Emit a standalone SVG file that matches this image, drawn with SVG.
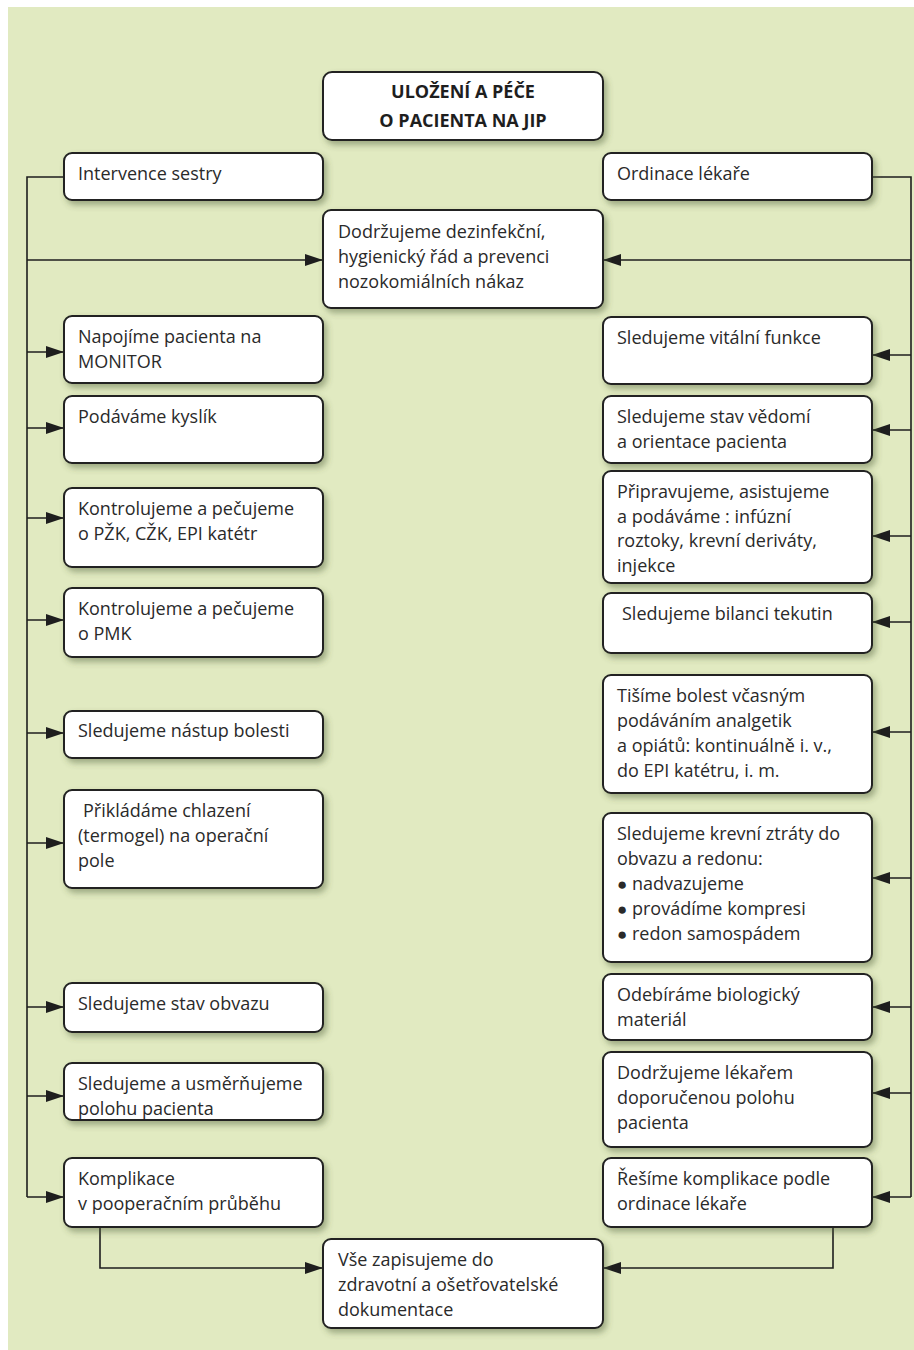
<svg xmlns="http://www.w3.org/2000/svg" width="914" height="1350" viewBox="0 0 914 1350">
<defs>
<filter id="sh" x="-10%" y="-20%" width="130%" height="160%">
<feDropShadow dx="3" dy="4" stdDeviation="3" flood-color="#4a5a30" flood-opacity="0.45"/>
</filter>
<marker id="ar" markerUnits="userSpaceOnUse" markerWidth="18" markerHeight="12" refX="18" refY="6" orient="auto">
<path d="M0,0 L18,6 L0,12 z" fill="#1e1e1e"/>
</marker>
</defs>
<style>
.b{fill:#fff;stroke:#222;stroke-width:2;filter:url(#sh)}
.t{font-family:"Open Sans","Noto Sans","Liberation Sans",sans-serif;font-size:18px;fill:#2a2a2a}
.h{font-family:"Open Sans","Noto Sans","Liberation Sans",sans-serif;font-size:18px;font-weight:bold;fill:#1e1e1e;text-anchor:middle}
.c{fill:none;stroke:#1e1e1e;stroke-width:1.6}
.a{marker-end:url(#ar)}
.d{font-size:17px}
</style>
<rect x="8" y="7" width="906" height="1343" fill="#e1eac1"/>
<g id="connectors">
<path class="c" d="M64,177 H27 V1197"/>
<path class="c a" d="M27,260 H323"/>
<path class="c a" d="M27,352 H64"/>
<path class="c a" d="M27,428 H64"/>
<path class="c a" d="M27,518 H64"/>
<path class="c a" d="M27,620 H64"/>
<path class="c a" d="M27,733 H64"/>
<path class="c a" d="M27,843 H64"/>
<path class="c a" d="M27,1007 H64"/>
<path class="c a" d="M27,1096 H64"/>
<path class="c a" d="M27,1197 H64"/>
<path class="c" d="M872,177 H911 V1197"/>
<path class="c a" d="M911,260 H603"/>
<path class="c a" d="M911,355 H872"/>
<path class="c a" d="M911,430 H872"/>
<path class="c a" d="M911,536 H872"/>
<path class="c a" d="M911,622 H872"/>
<path class="c a" d="M911,732 H872"/>
<path class="c a" d="M911,878 H872"/>
<path class="c a" d="M911,1007 H872"/>
<path class="c a" d="M911,1093 H872"/>
<path class="c a" d="M911,1197 H872"/>
<path class="c a" d="M100,1227 V1268 H323"/>
<path class="c a" d="M833,1227 V1268 H603"/>
</g>
<g id="n-title"><rect class="b" x="323" y="72" width="280" height="68" rx="9"/><text class="h" x="463" y="98">ULOŽENÍ A PÉČE</text><text class="h" x="463" y="127">O PACIENTA NA JIP</text></g>
<g id="n-intervence"><rect class="b" x="64" y="153" width="259" height="47" rx="8"/><text class="t" x="78" y="180">Intervence sestry</text></g>
<g id="n-ordinace"><rect class="b" x="603" y="153" width="269" height="47" rx="8"/><text class="t" x="617" y="180">Ordinace lékaře</text></g>
<g id="n-dezinfekce"><rect class="b" x="323" y="210" width="280" height="98" rx="8"/><text class="t" x="338" y="238">Dodržujeme dezinfekční,</text><text class="t" x="338" y="263">hygienický řád a prevenci</text><text class="t" x="338" y="288">nozokomiálních nákaz</text></g>
<g id="n-monitor"><rect class="b" x="64" y="316" width="259" height="67" rx="8"/><text class="t" x="78" y="343">Napojíme pacienta na</text><text class="t" x="78" y="368">MONITOR</text></g>
<g id="n-kyslik"><rect class="b" x="64" y="396" width="259" height="67" rx="8"/><text class="t" x="78" y="423">Podáváme kyslík</text></g>
<g id="n-pzk"><rect class="b" x="64" y="488" width="259" height="79" rx="8"/><text class="t" x="78" y="515">Kontrolujeme a pečujeme</text><text class="t" x="78" y="540">o PŽK, CŽK, EPI katétr</text></g>
<g id="n-pmk"><rect class="b" x="64" y="588" width="259" height="69" rx="8"/><text class="t" x="78" y="615">Kontrolujeme a pečujeme</text><text class="t" x="78" y="640">o PMK</text></g>
<g id="n-nastup"><rect class="b" x="64" y="711" width="259" height="47" rx="8"/><text class="t" x="78" y="737">Sledujeme nástup bolesti</text></g>
<g id="n-chlazeni"><rect class="b" x="64" y="790" width="259" height="98" rx="8"/><text class="t" x="83" y="817">Přikládáme chlazení</text><text class="t" x="78" y="842">(termogel) na operační</text><text class="t" x="78" y="867">pole</text></g>
<g id="n-obvaz"><rect class="b" x="64" y="983" width="259" height="49" rx="8"/><text class="t" x="78" y="1010">Sledujeme stav obvazu</text></g>
<g id="n-poloha"><rect class="b" x="64" y="1063" width="259" height="57" rx="8"/><text class="t" x="78" y="1090">Sledujeme a usměrňujeme</text><text class="t" x="78" y="1115">polohu pacienta</text></g>
<g id="n-komplikace"><rect class="b" x="64" y="1158" width="259" height="69" rx="8"/><text class="t" x="78" y="1185">Komplikace</text><text class="t" x="78" y="1210">v pooperačním průběhu</text></g>
<g id="n-vitalni"><rect class="b" x="603" y="317" width="269" height="67" rx="8"/><text class="t" x="617" y="344">Sledujeme vitální funkce</text></g>
<g id="n-vedomi"><rect class="b" x="603" y="396" width="269" height="67" rx="8"/><text class="t" x="617" y="423">Sledujeme stav vědomí</text><text class="t" x="617" y="448">a orientace pacienta</text></g>
<g id="n-infuze"><rect class="b" x="603" y="471" width="269" height="112" rx="8"/><text class="t" x="617" y="498">Připravujeme, asistujeme</text><text class="t" x="617" y="523">a podáváme : infúzní</text><text class="t" x="617" y="547">roztoky, krevní deriváty,</text><text class="t" x="617" y="572">injekce</text></g>
<g id="n-bilance"><rect class="b" x="603" y="593" width="269" height="60" rx="8"/><text class="t" x="622" y="620">Sledujeme bilanci tekutin</text></g>
<g id="n-bolest"><rect class="b" x="603" y="675" width="269" height="118" rx="8"/><text class="t" x="617" y="702">Tišíme bolest včasným</text><text class="t" x="617" y="727">podáváním analgetik</text><text class="t" x="617" y="752">a opiátů: kontinuálně i. v.,</text><text class="t" x="617" y="777">do EPI katétru, i. m.</text></g>
<g id="n-ztraty"><rect class="b" x="603" y="813" width="269" height="149" rx="8"/><text class="t" x="617" y="840">Sledujeme krevní ztráty do</text><text class="t" x="617" y="865">obvazu a redonu:</text><text class="t" x="617" y="890"><tspan class="d">●</tspan> nadvazujeme</text><text class="t" x="617" y="915"><tspan class="d">●</tspan> provádíme kompresi</text><text class="t" x="617" y="940"><tspan class="d">●</tspan> redon samospádem</text></g>
<g id="n-material"><rect class="b" x="603" y="974" width="269" height="66" rx="8"/><text class="t" x="617" y="1001">Odebíráme biologický</text><text class="t" x="617" y="1026">materiál</text></g>
<g id="n-poloha-lekar"><rect class="b" x="603" y="1052" width="269" height="95" rx="8"/><text class="t" x="617" y="1079">Dodržujeme lékařem</text><text class="t" x="617" y="1104">doporučenou polohu</text><text class="t" x="617" y="1129">pacienta</text></g>
<g id="n-reseni"><rect class="b" x="603" y="1158" width="269" height="69" rx="8"/><text class="t" x="617" y="1185">Řešíme komplikace podle</text><text class="t" x="617" y="1210">ordinace lékaře</text></g>
<g id="n-zapis"><rect class="b" x="323" y="1239" width="280" height="89" rx="8"/><text class="t" x="338" y="1266">Vše zapisujeme do</text><text class="t" x="338" y="1291">zdravotní a ošetřovatelské</text><text class="t" x="338" y="1316">dokumentace</text></g>
</svg>
